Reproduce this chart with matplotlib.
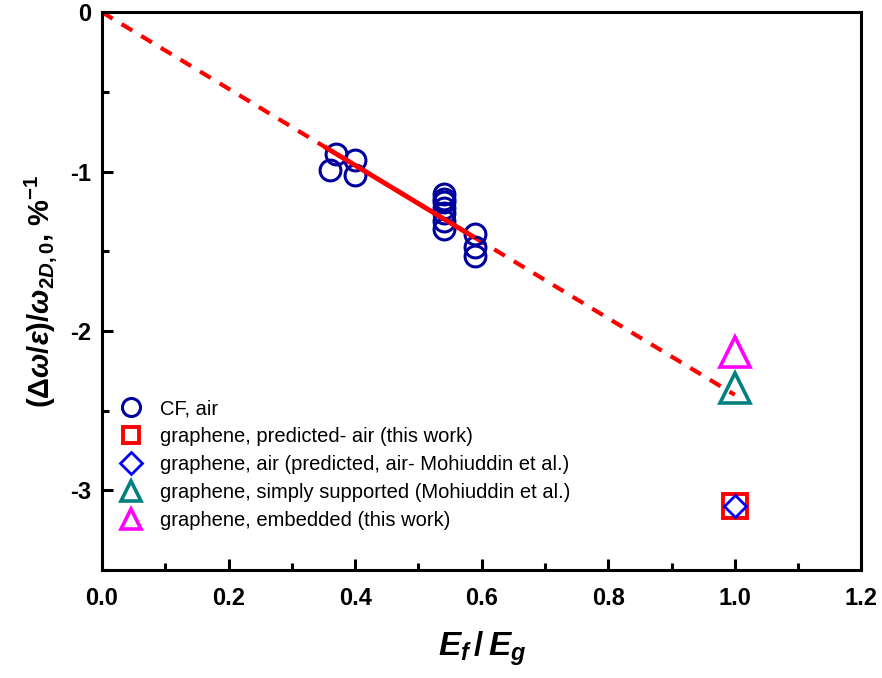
import numpy as np
import matplotlib
matplotlib.use('Agg')
import matplotlib.pyplot as plt
from matplotlib.ticker import MultipleLocator

# 資料
cf_x = [0.36, 0.37, 0.40, 0.40, 0.54, 0.54, 0.54, 0.54, 0.54, 0.54, 0.54, 0.59, 0.59, 0.59]
cf_y = [-0.99, -0.89, -0.93, -1.02, -1.14, -1.17, -1.19, -1.23, -1.26, -1.31, -1.36, -1.39, -1.47, -1.53]
pred_x, pred_y = [1.0], [-3.10]
moh_air_x, moh_air_y = [1.0], [-3.10]
moh_ss_x, moh_ss_y = [1.0], [-2.36]
emb_x, emb_y = [1.0], [-2.13]
slope = -2.4
fit_dash_x = [0.0, 1.0]
fit_solid_x = [0.355, 0.586]

plt.rcParams['mathtext.fontset'] = 'custom'
plt.rcParams['mathtext.it'] = 'Liberation Sans:italic:bold'
plt.rcParams['mathtext.rm'] = 'Liberation Sans:bold'
plt.rcParams['mathtext.bf'] = 'Liberation Sans:bold'

fig = plt.figure(figsize=(8.82, 6.78), dpi=100)
ax = fig.add_axes([0.1156, 0.159, 0.861, 0.823])

ax.plot(fit_dash_x, [slope * v for v in fit_dash_x], color='#ff0000', lw=3, ls=(0, (3, 2.5)), zorder=2)
ax.plot(fit_solid_x, [slope * v for v in fit_solid_x], color='#ff0000', lw=3.5, zorder=4)

ax.plot(cf_x, cf_y, 'o', ms=15, mfc='none', mec='#00009c', mew=2.2, label='CF, air', zorder=3)
ax.plot(pred_x, pred_y, 's', ms=17, mfc='none', mec='#ff0000', mew=2.8,
        label='graphene, predicted- air (this work)', zorder=3)
ax.plot(moh_air_x, moh_air_y, 'D', ms=11, mfc='none', mec='#0000ff', mew=2,
        label='graphene, air (predicted, air- Mohiuddin et al.)', zorder=3)
ax.plot(moh_ss_x, moh_ss_y, '^', ms=22, mfc='none', mec='#008080', mew=2.6,
        label='graphene, simply supported (Mohiuddin et al.)', zorder=3)
ax.plot(emb_x, emb_y, '^', ms=22, mfc='none', mec='#ff00ff', mew=2.6,
        label='graphene, embedded (this work)', zorder=3)

ax.set_xlim(0, 1.2)
ax.set_ylim(-3.5, 0)
ax.xaxis.set_major_locator(MultipleLocator(0.2))
ax.xaxis.set_minor_locator(MultipleLocator(0.1))
ax.yaxis.set_major_locator(MultipleLocator(1))
ax.yaxis.set_minor_locator(MultipleLocator(0.5))
ax.tick_params(which='major', direction='in', length=8, width=2.2)
ax.tick_params(which='minor', direction='in', length=5, width=2.2)
ax.tick_params(right=False, top=False, which='both')
for s in ax.spines.values():
    s.set_linewidth(2.2)

tick_font = ['Liberation Sans Narrow', 'Liberation Sans', 'DejaVu Sans']
ax.set_xticks([0, 0.2, 0.4, 0.6, 0.8, 1.0, 1.2])
ax.set_xticklabels(['0.0', '0.2', '0.4', '0.6', '0.8', '1.0', '1.2'])
ax.set_yticks([0, -1, -2, -3])
ax.set_yticklabels(['0', '-1', '-2', '-3'])
for lab in ax.get_xticklabels() + ax.get_yticklabels():
    lab.set_family(tick_font)
    lab.set_fontweight('bold')
    lab.set_fontsize(17)
ax.tick_params(axis='x', pad=12)
ax.tick_params(axis='y', pad=8)

ax.set_xlabel(r'$E_f\,/\,E_g$', fontsize=24, labelpad=14)
ax.set_ylabel(r'$\mathrm{(\Delta}\omega/\varepsilon\mathrm{)/}\omega_{2D,0}$, %$^{-1}$',
              fontsize=21, fontweight='bold', family='Liberation Sans', labelpad=8)

leg = ax.legend(loc='lower left', bbox_to_anchor=(-0.004, 0.047), frameon=False,
                prop={'family': 'Liberation Sans', 'size': 14.5}, numpoints=1,
                handletextpad=0.55, labelspacing=0.44, borderaxespad=0.3, handlelength=1.8)
for h, ms in zip(leg.legend_handles, [13, 11, 11, 15, 15]):
    h.set_markersize(ms)

fig.savefig('out.png', dpi=100)
